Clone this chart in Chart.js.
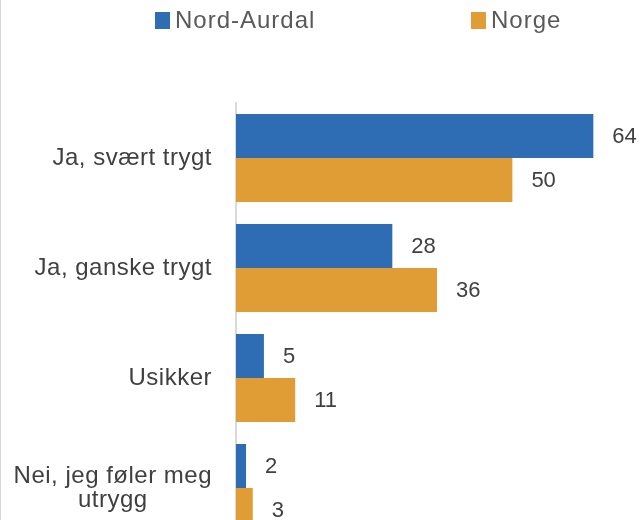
<!DOCTYPE html>
<html>
<head>
<meta charset="utf-8">
<script src="https://cdn.jsdelivr.net/npm/chart.js@4"></script>
<style>
  html, body { margin: 0; padding: 0; background: #fff; overflow: hidden; }
  #wrap { position: relative; width: 641px; height: 520px; overflow: hidden; }
  #edge { position: absolute; left: 0; top: 0; width: 1px; height: 520px; background: #d9d9d9; }
</style>
</head>
<body>
<div id="wrap">
  <canvas id="mychart" width="641" height="560"></canvas>
  <div id="edge"></div>
</div>
<script>
const categories = ['Ja, svært trygt', 'Ja, ganske trygt', 'Usikker', ['Nei, jeg føler meg', 'utrygg']];
const seriesNames = ['Nord-Aurdal', 'Norge'];
const nordAurdal = [64, 28, 5, 1.8];
const norge = [49.5, 36, 10.6, 3];

const colors = ['#2e6db4', '#e09d36'];
const fontFamily = '"Liberation Sans", Arial, sans-serif';

// value labels, category labels and legend drawn by hand
const extras = {
  id: 'extras',
  afterDraw(chart) {
    const ctx = chart.ctx;
    const area = chart.chartArea;
    const yScale = chart.scales.y;
    ctx.save();

    // values next to the bars
    ctx.font = '22px ' + fontFamily;
    ctx.fillStyle = '#404040';
    ctx.textAlign = 'left';
    ctx.textBaseline = 'middle';
    chart.data.datasets.forEach((ds, i) => {
      chart.getDatasetMeta(i).data.forEach((bar, j) => {
        ctx.fillText(String(Math.round(ds.data[j])), bar.x + 19, bar.y + 1);
      });
    });

    // category labels: block right aligned, lines centred
    ctx.font = '24px ' + fontFamily;
    ctx.letterSpacing = '0.5px';
    ctx.fillStyle = '#404040';
    ctx.textAlign = 'center';
    categories.forEach((label, j) => {
      const lines = Array.isArray(label) ? label : [label];
      const widest = Math.max(...lines.map(l => ctx.measureText(l).width));
      const cx = area.left - 24 - widest / 2;
      const cy = yScale.getPixelForValue(j);
      lines.forEach((line, k) => {
        ctx.fillText(line, cx, cy + (k - (lines.length - 1) / 2) * 24);
      });
    });

    // legend
    const legendX = [155, 471];
    ctx.font = '24px ' + fontFamily;
    ctx.letterSpacing = '1px';
    ctx.textAlign = 'left';
    seriesNames.forEach((name, i) => {
      ctx.fillStyle = colors[i];
      ctx.fillRect(legendX[i], 12, 15, 17);
      ctx.fillStyle = '#595959';
      ctx.fillText(name, legendX[i] + 20, 21);
    });
    ctx.restore();
  }
};

new Chart(document.getElementById('mychart'), {
  type: 'bar',
  data: {
    labels: categories,
    datasets: [
      { label: seriesNames[0], data: nordAurdal, backgroundColor: colors[0] },
      { label: seriesNames[1], data: norge, backgroundColor: colors[1] }
    ]
  },
  options: {
    indexAxis: 'y',
    responsive: false,
    animation: false,
    devicePixelRatio: 1,
    categoryPercentage: 0.8,
    barPercentage: 1.0,
    layout: { padding: { top: 103, bottom: 17, left: 0, right: 3 } },
    plugins: {
      legend: { display: false },
      tooltip: { enabled: false }
    },
    scales: {
      x: {
        display: false,
        min: 0,
        max: 72
      },
      y: {
        grid: { display: false },
        border: { display: true, color: '#d9d9d9', width: 2 },
        ticks: { display: false },
        afterFit(scale) { scale.width = 236; }
      }
    }
  },
  plugins: [extras]
});
</script>
</body>
</html>
